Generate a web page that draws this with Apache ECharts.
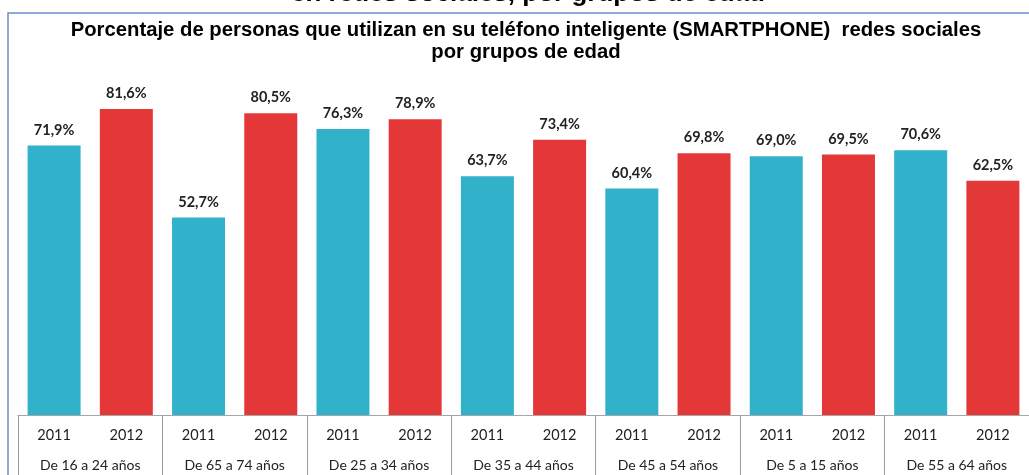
<!DOCTYPE html>
<html>
<head>
<meta charset="utf-8">
<script src="https://cdn.jsdelivr.net/npm/echarts@6/dist/echarts.min.js"></script>
<style>
  html, body { margin: 0; padding: 0; background: #fff; }
  #chart { width: 1029px; height: 475px; }
</style>
</head>
<body>
<div id="chart"></div>
<script>
const groups = ['De 16 a 24 años', 'De 65 a 74 años', 'De 25 a 34 años', 'De 35 a 44 años',
  'De 45 a 54 años', 'De 5 a 15 años', 'De 55 a 64 años']
const years = ['2011', '2012']
const v2011 = [71.9, 52.7, 76.3, 63.7, 60.4, 69.0, 70.6]
const v2012 = [81.6, 80.5, 78.9, 73.4, 69.8, 69.5, 62.5]

const teal = '#32b1cb'
const red = '#e43737'

// one category per bar: 2011, 2012, 2011, 2012 ...
const yearCats = []
const barData = []
groups.forEach((g, i) => {
  yearCats.push(years[0], years[1])
  barData.push({ value: v2011[i], itemStyle: { color: teal } })
  barData.push({ value: v2012[i], itemStyle: { color: red } })
})

const chart = echarts.init(document.getElementById('chart'))
chart.setOption({
  animation: false,
  graphic: [
    {
      type: 'text',
      x: 528, y: -19,
      style: {
        text: 'en redes sociales, por grupos de edad',
        align: 'center', verticalAlign: 'top',
        font: 'bold 26px "Liberation Sans", Arial', fill: '#000'
      }
    },
    {
      type: 'rect',
      shape: { x: 8, y: 13, width: 1040, height: 480 },
      style: { fill: 'none', stroke: '#6b8fc6', lineWidth: 1.5 }
    },
    {
      type: 'text',
      x: 526, y: 19,
      style: {
        text: 'Porcentaje de personas que utilizan en su teléfono inteligente (SMARTPHONE)  redes sociales\npor grupos de edad',
        align: 'center', verticalAlign: 'top', lineHeight: 22,
        font: 'bold 20.3px "Liberation Sans", Arial', fill: '#000'
      }
    }
  ],
  grid: { left: 18, right: 0, top: 40, bottom: 60 },
  xAxis: [
    {
      type: 'category',
      data: yearCats,
      axisLine: { lineStyle: { color: '#a6a6a6' } },
      axisTick: { show: false },
      axisLabel: { margin: 13, color: '#222', fontSize: 14.5, fontFamily: 'Lato' }
    },
    {
      type: 'category',
      position: 'bottom',
      data: groups,
      axisLine: { show: false },
      axisTick: { show: true, length: 62, lineStyle: { color: '#9a9a9a' } },
      axisLabel: { margin: 43, color: '#222', fontSize: 14, fontFamily: 'Lato' }
    }
  ],
  yAxis: { type: 'value', min: 0, max: 100, show: false, splitLine: { show: false } },
  series: [
    {
      type: 'bar',
      xAxisIndex: 0,
      data: barData,
      barWidth: 53,
      label: {
        show: true, position: 'top', distance: 8,
        color: '#222', fontSize: 14.5, fontWeight: 'bold', fontFamily: 'Lato',
        formatter: p => p.value.toFixed(1).replace('.', ',') + '%'
      }
    }
  ]
})
</script>
</body>
</html>
